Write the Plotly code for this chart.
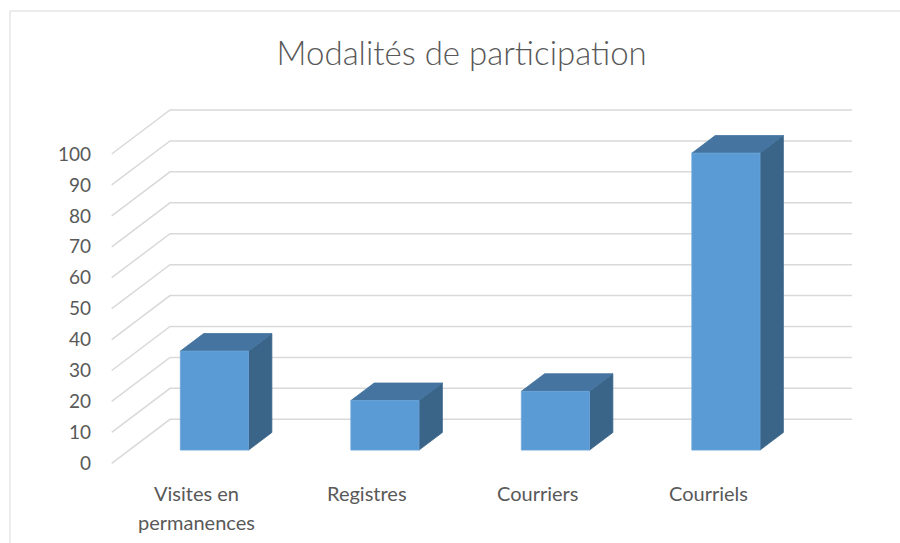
import plotly.graph_objects as go

# ---- data ----
categories = ["Visites en permanences", "Registres", "Courriers", "Courriels"]
label_lines = [["Visites en", "permanences"], ["Registres"], ["Courriers"], ["Courriels"]]
values = [32, 16, 19, 96]
y_ticks = [0, 10, 20, 30, 40, 50, 60, 70, 80, 90, 100]

# ---- 3D oblique projection params ----
DX = 0.342   # depth offset in category units
DY = 14.23   # depth offset in value units
D0, D1 = 0.3, 0.7      # bar depth extent
W0, W1 = 0.3, 0.7      # bar width extent within slot
N = len(categories)

def P(x, v, d):
    return x + d * DX, v + d * DY

fig = go.Figure()

# gridlines (diagonal side wall + back wall)
gx, gy = [], []
for t in y_ticks:
    a = P(0, t, 0); b = P(0, t, 1); c = P(N, t, 1)
    gx += [a[0], b[0], c[0], None]
    gy += [a[1], b[1], c[1], None]
fig.add_trace(go.Scatter(x=gx, y=gy, mode="lines",
                         line=dict(color="#d9d9d9", width=1.5),
                         hoverinfo="skip", showlegend=False))

FRONT = "#5b9bd5"
TOP = "#44749f"
SIDE = "#3a6488"

def poly(pts, color, lc=None):
    xs = [p[0] for p in pts] + [pts[0][0]]
    ys = [p[1] for p in pts] + [pts[0][1]]
    fig.add_trace(go.Scatter(x=xs, y=ys, mode="lines", fill="toself",
                             fillcolor=color, line=dict(color=lc or color, width=0.8),
                             hoverinfo="skip", showlegend=False))

for i, v in enumerate(values):
    x0, x1 = i + W0, i + W1
    # side
    poly([P(x1, 0, D0), P(x1, 0, D1), P(x1, v, D1), P(x1, v, D0)], SIDE)
    # top
    poly([P(x0, v, D0), P(x1, v, D0), P(x1, v, D1), P(x0, v, D1)], TOP)
    # front
    poly([P(x0, 0, D0), P(x1, 0, D0), P(x1, v, D0), P(x0, v, D0)], FRONT, "#6ca6da")

# category labels
for i, lines in enumerate(label_lines):
    for j, ln in enumerate(lines):
        fig.add_annotation(x=i + 0.5, y=-0.053 - j * 0.0775, xref="x", yref="paper",
                           text=ln, showarrow=False, xanchor="center", yanchor="middle",
                           font=dict(family="Lato", size=20, color="#595959"))

L, R, T, B = 100, 40, 100, 70
W, H = 900, 543
pw, ph = W - L - R, H - T - B

# chart border (top and left visible)
fig.add_shape(type="line", xref="paper", yref="paper",
              x0=(10 - L) / pw, x1=(W + 5 - L) / pw,
              y0=(H - B - 11) / ph, y1=(H - B - 11) / ph,
              line=dict(color="#d9d9d9", width=1))
fig.add_shape(type="line", xref="paper", yref="paper",
              x0=(10 - L) / pw, x1=(10 - L) / pw,
              y0=(H - B - 11) / ph, y1=-(B + 5) / ph,
              line=dict(color="#d9d9d9", width=1))

fig.update_layout(
    width=W, height=H,
    margin=dict(l=L, r=R, t=T, b=B),
    paper_bgcolor="white", plot_bgcolor="white",
    title=dict(text="Modalités de participation", x=0.513, xanchor="center",
               y=1 - 53 / H, yanchor="middle",
               font=dict(family="Lato", size=33, color="#595959", weight=300)),
    xaxis=dict(range=[-0.0686, 4.389], showgrid=False, zeroline=False,
               showticklabels=False, showline=False, fixedrange=True),
    yaxis=dict(range=[-3.136, 117.46], showgrid=False, zeroline=False,
               tickmode="array", tickvals=y_ticks, ticktext=[str(t) for t in y_ticks],
               ticks="", ticklabelstandoff=8, showline=False,
               tickfont=dict(family="Lato", size=19, color="#595959"), fixedrange=True),
)

fig.write_html("out.html", config={"displayModeBar": False},
               post_script="document.body.style.margin='0';")
